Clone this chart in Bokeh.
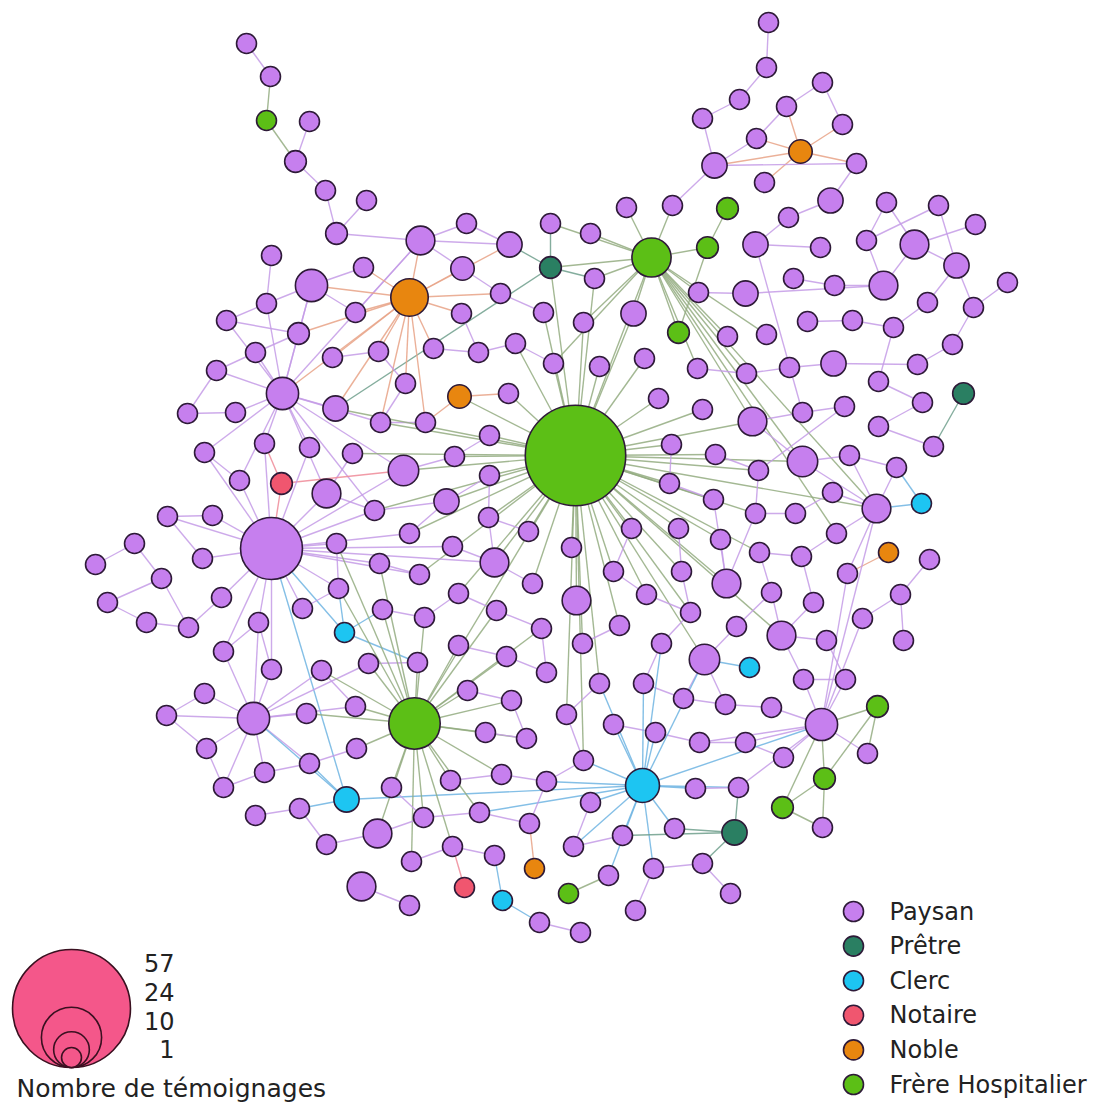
from bokeh.plotting import figure
from bokeh.models import Range1d, ColumnDataSource
from bokeh.core.properties import value
from bokeh.embed import file_html
from bokeh.resources import INLINE

# ---------------- data ----------------
# node layout position (x, y), number of testimonies, social role
node_x = [246,270,266,309,295,325,366,336,420,466,509,550,550,271,311,363,409,462,500,461,
          355,266,226,298,543,255,332,378,433,478,515,553,216,282,405,459,508,187,235,335,
          380,425,
          768,766,739,702,822,786,842,800,756,714,764,856,830,788,727,707,678,651,626,672,
          590,594,583,633,698,745,755,820,793,834,883,866,914,886,938,975,956,927,973,1007,
          807,852,893,952,917,878,922,963,833,789,746,697,727,766,644,599,658,702,752,802,
          844,878,
          575,671,715,802,849,933,896,669,713,758,832,876,921,755,795,631,678,720,836,571,
          759,801,888,929,613,681,726,771,813,847,900,576,646,690,736,781,826,862,903,619,
          582,661,704,749,599,643,803,845,683,725,771,566,613,655,699,745,821,877,867,583,
          783,642,590,695,738,824,782,822,674,734,622,573,653,702,608,568,730,635,539,580,
          204,264,309,352,403,454,489,239,281,326,374,446,489,488,528,167,212,271,134,95,
          202,161,107,146,188,221,336,409,452,379,419,494,532,338,302,382,424,458,496,541,
          344,258,223,368,417,458,506,546,271,321,204,166,253,306,355,414,467,511,206,356,
          309,264,223,485,526,450,391,501,546,346,299,255,479,423,529,377,326,452,494,411,
          534,361,464,502,409]
node_y = [43,76,120,121,161,190,200,233,240,223,244,223,267,255,285,267,297,268,293,313,
          312,303,320,333,312,352,357,351,348,352,343,363,370,393,383,396,393,413,412,408,
          422,422,
          22,67,99,118,82,106,124,151,138,165,182,163,200,217,208,247,332,257,207,205,
          233,278,322,313,292,293,244,247,278,285,285,240,244,202,205,224,265,302,307,282,
          321,320,327,344,364,381,402,393,363,367,373,368,336,334,358,366,398,409,421,412,
          406,426,
          455,444,454,461,455,446,467,483,499,470,492,508,503,513,513,528,528,539,533,547,
          552,556,552,559,571,571,583,592,602,573,594,600,594,612,626,635,640,618,640,625,
          643,643,659,667,683,683,679,679,698,704,707,714,724,732,742,742,724,706,753,760,
          757,785,802,788,787,778,807,827,828,832,835,846,868,863,875,893,893,910,922,932,
          452,443,447,453,470,456,435,480,483,493,510,501,475,517,531,516,515,548,543,564,
          558,578,602,622,627,597,543,533,546,563,574,562,583,588,608,609,617,593,610,628,
          632,622,651,663,662,645,656,672,669,670,693,715,718,713,706,723,690,700,748,748,
          763,772,787,732,738,780,787,774,781,799,808,815,812,817,823,833,844,846,855,861,
          868,886,887,900,905]
node_count = [1,1,1,1,2,1,1,2,6,1,4,1,2,1,8,1,11,3,1,1,
              1,1,1,2,1,1,1,1,1,1,1,1,1,8,1,3,1,1,1,4,
              1,1,
              1,1,1,1,1,1,1,3,1,4,1,1,4,1,2,2,2,12,1,1,
              1,1,1,4,1,4,4,1,1,1,6,1,6,1,1,1,4,1,1,1,
              1,1,1,1,1,1,1,2,4,1,1,1,1,1,1,1,1,1,6,1,
              1,1,
              47,1,1,7,1,1,1,1,1,1,1,6,1,1,1,1,1,1,1,1,
              1,1,1,1,1,1,6,1,1,1,1,6,1,1,1,6,1,1,1,1,
              1,1,7,1,1,1,1,1,1,1,1,1,1,1,1,1,8,2,1,1,
              1,9,1,1,1,2,2,1,1,4,1,1,1,1,1,1,1,1,1,1,
              1,1,1,1,7,1,1,1,2,6,1,4,1,1,1,1,1,25,1,1,
              1,1,1,1,1,1,1,1,1,1,1,6,1,1,1,1,1,1,1,1,
              1,1,1,1,1,1,1,1,1,1,1,1,8,1,1,19,1,1,1,1,
              1,1,1,1,1,1,1,1,1,4,1,1,1,1,1,6,1,1,1,1,
              1,6,1,1,1]
node_role = (["Paysan"]*2 + ["Frère Hospitalier"] + ["Paysan"]*9 + ["Prêtre"] + ["Paysan"]*3
             + ["Noble"] + ["Paysan"]*18 + ["Noble"] + ["Paysan"]*6
             # top right (42..103)
             + ["Paysan"]*7 + ["Noble"] + ["Paysan"]*6 + ["Frère Hospitalier"]*4 + ["Paysan"]*29
             + ["Prêtre"] + ["Paysan"]*14
             # centre / right (104..183)
             + ["Frère Hospitalier"] + ["Paysan"]*11 + ["Clerc"] + ["Paysan"]*9 + ["Noble"]
             + ["Paysan"]*20 + ["Clerc"] + ["Paysan"]*13 + ["Frère Hospitalier"] + ["Paysan"]*3
             + ["Clerc"] + ["Paysan"]*3 + ["Frère Hospitalier"]*2 + ["Paysan"]*2 + ["Prêtre"]
             + ["Paysan"]*5 + ["Frère Hospitalier"] + ["Paysan"]*4
             # left (184..268)
             + ["Paysan"]*8 + ["Notaire"] + ["Paysan"]*31 + ["Clerc"] + ["Paysan"]*14
             + ["Frère Hospitalier"] + ["Paysan"]*13 + ["Clerc"] + ["Paysan"]*10
             + ["Noble"] + ["Paysan"] + ["Notaire"] + ["Clerc"] + ["Paysan"])

# hub neighbourhoods
hub_links = {
    104: [31,30,24,63,64,97,65,96,98,99,105,106,100,107,111,112,117,119,120,121,123,128,129,130,
          135,136,144,148,155,146,216,198,197,196,190,189,188,195,215,221,214,211,187,40,239,115,
          35,12,59,36,143,163,139,137,124,113,39,194],
    239: [238,237,227,228,229,230,240,241,247,249,250,257,261,259,243,256,251,248,223,222,220,219,
          217,233,263,210,213],
    59: [63,12,62,60,61,57,66,65,64,58,93,94,92,100,95,115,107,122,31,11],
    16: [14,15,8,17,19,18,20,27,28,26,23,34,33,41,39,40,10],
    201: [200,199,204,209,191,185,186,192,193,210,194,213,217,218,225,226,188,224,253,211,212,214,
          215,232,184],
    33: [38,32,25,23,22,39,185,186,191,40,188,193,194,21,184],
    236: [234,235,242,245,246,237,244,233,232,225,226,238,227,253],
    165: [163,166,174,175,178,176,172,167,168,157,156,149,148,145,252,256,160,253,146],
    173: [172,174,168,177],
    160: [161,169,170,162,164,159,154,150,151,141,115,168,158,133],
    115: [110,116,133,114,108,107,122],
}
other_links = [
    (0,1),(1,2),(2,4),(3,4),(4,5),(5,7),(6,7),(7,8),(8,9),(8,10),(8,17),(9,10),(11,12),(13,21),
    (21,14),(22,21),(14,15),(14,23),(14,33),(14,20),(23,25),(25,32),(32,37),(37,38),(38,33),(22,23),
    (26,27),(27,34),(28,29),(29,30),(30,31),(17,18),(18,24),(19,29),(36,35),(35,41),(34,40),(41,40),
    (12,39),(12,63),(12,10),(8,33),(8,20),(56,57),(57,58),
    (42,43),(43,44),(44,45),(45,51),(51,50),(50,47),(47,46),(46,48),(48,49),(49,47),(49,50),(49,52),
    (49,53),(49,51),(51,53),(53,54),(54,55),(55,68),(51,61),(68,101),(75,73),(75,74),(76,73),(76,78),
    (77,74),(74,78),(74,72),(73,72),(78,80),(78,79),(81,80),(80,85),(72,71),(71,70),(72,67),(67,66),
    (69,68),(82,83),(83,84),(84,87),(90,86),(87,88),(88,103),(89,109),(90,91),(91,92),(92,93),(85,86),
    (79,84),(116,110),(126,133),
    (108,110),(109,103),(110,115),(127,134),(134,141),(142,134),(122,125),(125,124),(124,131),
    (131,139),(139,140),(139,132),(132,125),(140,151),(150,151),(150,139),(154,153),(153,146),
    (146,147),(146,138),(138,131),(130,112),(130,121),(130,117),(117,118),(118,114),(113,106),
    (113,102),(102,101),(101,100),(100,107),(107,108),(113,117),(112,111),(111,105),(119,128),
    (128,136),(136,137),(137,129),(129,120),(143,144),(145,137),(149,145),(149,152),(152,153),
    (152,146),(148,155),(156,157),(157,158),(158,159),(159,164),(164,160),(162,161),(161,169),
    (169,170),(169,171),(170,171),(167,168),(174,175),(176,177),(177,180),(178,179),(181,176),
    (182,183),(182,267),(264,258),(252,163),(166,175),(163,155),
    (184,191),(185,192),(192,188),(187,193),(193,194),(194,195),(195,196),(196,197),(197,198),
    (189,190),(188,189),(211,195),(212,215),(215,216),(215,197),(213,214),(210,217),(217,218),
    (219,220),(220,221),(221,222),(222,223),(219,224),(224,228),(224,217),(227,228),(229,230),
    (230,231),(231,223),(240,241),(241,248),(247,248),(249,251),(251,252),(250,257),(257,256),
    (256,258),(258,252),(262,261),(262,267),(261,266),(263,261),(265,268),(259,260),(259,257),
    (260,254),(255,254),(245,246),(244,245),(242,246),(234,235),(235,242),(243,244),(238,233),
    (232,225),(226,225),(253,244),(253,254),
    (202,203),(202,205),(205,206),(206,207),(205,208),(208,209),(199,200),(199,204),(207,208),
]

roles = ["Paysan", "Prêtre", "Clerc", "Notaire", "Noble", "Frère Hospitalier"]
role_fill = {"Paysan": "#c67fee", "Prêtre": "#2a7f62", "Clerc": "#1dc5f2",
             "Notaire": "#f0566f", "Noble": "#e8860f", "Frère Hospitalier": "#5cbf16"}
role_edge = {"Paysan": "#c49be6", "Prêtre": "#6f9f8c", "Clerc": "#6fb4e2",
             "Notaire": "#ee8a98", "Noble": "#e8a286", "Frère Hospitalier": "#93ab80"}
legend_counts = [57, 24, 10, 1]


def radius(n):
    return 9.1 + 0.875 * n


# ---------------- figure ----------------
W, H = 1114, 1104
p = figure(width=W, height=H, x_range=Range1d(0, W), y_range=Range1d(H, 0),
           output_backend="svg", toolbar_location=None, min_border=0)
p.axis.visible = False
p.grid.visible = False
p.outline_line_color = None
p.background_fill_color = "white"
p.border_fill_color = "white"

# edges
pairs = set()
for hub, nbrs in hub_links.items():
    for n in nbrs:
        pairs.add((hub, n) if (n, hub) not in pairs else (n, hub))
for a, b in other_links:
    if (b, a) not in pairs:
        pairs.add((a, b))
exs, eys, ecol = [], [], []
for a, b in sorted(pairs):
    exs.append([node_x[a], node_x[b]])
    eys.append([node_y[a], node_y[b]])
    ra, rb = node_role[a], node_role[b]
    r = ra if ra != "Paysan" else rb
    ecol.append(role_edge[r])
p.multi_line(xs=exs, ys=eys, line_color=ecol, line_width=1.4, line_alpha=0.85)

# nodes (large first so small ones stay visible)
order = sorted(range(len(node_x)), key=lambda i: -node_count[i])
src = ColumnDataSource(dict(
    x=[node_x[i] for i in order], y=[node_y[i] for i in order],
    size=[2 * radius(node_count[i]) for i in order],
    fill=[role_fill[node_role[i]] for i in order]))
p.scatter("x", "y", size="size", fill_color="fill", line_color="#2e1a38",
          line_width=1.6, source=src)

# size legend (nested circles, bottom-aligned)
base_y, cx = 1067, 71
p.scatter(x=[cx] * 4, y=[base_y - radius(n) for n in legend_counts],
          size=[2 * radius(n) for n in legend_counts],
          fill_color="#f4578a", line_color="#3a1020", line_width=1.6)
p.text(x=[174] * 4, y=[962, 991, 1020, 1048], text=[str(n) for n in legend_counts],
       text_align="right", text_baseline="middle", text_font=value("DejaVu Sans"),
       text_font_size=value("24px"), text_color="#222222")
p.text(x=[16], y=[1088], text=["Nombre de témoignages"], text_align="left",
       text_baseline="middle", text_font=value("DejaVu Sans"),
       text_font_size=value("25px"), text_color="#222222")

# role legend
ly = [911 + 34.6 * i for i in range(len(roles))]
p.scatter(x=[853] * len(roles), y=ly, size=20, fill_color=[role_fill[r] for r in roles],
          line_color="#2e1a38", line_width=1.6)
p.text(x=[889] * len(roles), y=ly, text=roles, text_align="left", text_baseline="middle",
       text_font=value("DejaVu Sans"), text_font_size=value("24px"), text_color="#222222")

open("out.html", "w").write(file_html(p, INLINE))
